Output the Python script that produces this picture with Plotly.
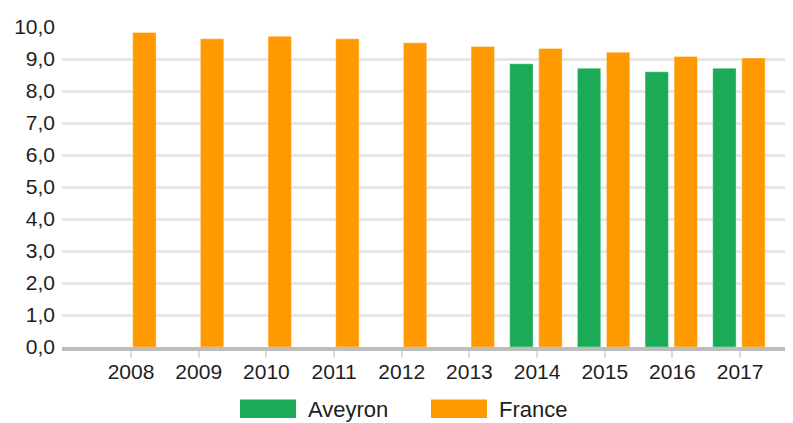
import plotly.graph_objects as go

years = ["2008", "2009", "2010", "2011", "2012", "2013", "2014", "2015", "2016", "2017"]
aveyron = [None, None, None, None, None, None, 8.85, 8.71, 8.60, 8.71]
france = [9.83, 9.63, 9.71, 9.63, 9.51, 9.39, 9.33, 9.21, 9.08, 9.03]
series_names = ["Aveyron", "France"]
colors = ["#1bab56", "#ff9900"]

# page has an 8px body margin: shift the figure so it lines up with the 793x423 window
OFF = 8
W, H = 793, 423 - OFF
ML, MR, MT, MB = 62 - OFF, 0, 27 - OFF, 76
FONT = "Liberation Sans, Arial, sans-serif"

fig = go.Figure()
fig.add_trace(go.Bar(x=years, y=aveyron, name=series_names[0], marker_color=colors[0],
                     marker_line=dict(width=1, color="rgba(255,255,255,0.35)"),
                     width=0.345, offset=-0.404, showlegend=False))
fig.add_trace(go.Bar(x=years, y=france, name=series_names[1], marker_color=colors[1],
                     marker_line=dict(width=1, color="rgba(255,255,255,0.35)"),
                     width=0.345, offset=0.025, showlegend=False))

pw = W - ML - MR
ph = H - MT - MB


def px2x(p):
    return (p - OFF - ML) / pw


def px2y(p):
    return (H - MB - (p - OFF)) / ph


# custom legend (wide swatches like the reference); pixel positions in window coords
legend_items = [(240, 296, 306), (431, 487, 497)]
for (x0, x1, tx), name, col in zip(legend_items, series_names, colors):
    fig.add_shape(type="rect", xref="paper", yref="paper",
                  x0=px2x(x0), x1=px2x(x1), y0=px2y(418), y1=px2y(399.5),
                  fillcolor=col, line_width=0)
    fig.add_annotation(xref="paper", yref="paper", x=px2x(tx), y=px2y(409),
                       text=name, showarrow=False, xanchor="left", yanchor="middle",
                       font=dict(size=22, color="#1e1e1e", family=FONT))

fig.update_layout(
    width=W, height=H,
    margin=dict(l=ML, r=MR, t=MT, b=MB, pad=0),
    paper_bgcolor="white", plot_bgcolor="white",
    barmode="overlay",
    separators=", ",
    font=dict(family=FONT, size=21, color="#1e1e1e"),
)
fig.update_xaxes(type="category", range=[-1.02, 9.90], showgrid=False,
                 showline=True, linecolor="#bdbdbd", linewidth=4,
                 ticks="outside", ticklen=7, tickwidth=2, tickcolor="#dddddd",
                 tickfont=dict(size=21, color="#1e1e1e"), ticklabelstandoff=-4)
fig.update_yaxes(range=[0, 10], dtick=1, tickformat=".1f", showgrid=True,
                 gridcolor="#e6e6e6", gridwidth=2.5, zeroline=False,
                 ticks="", tickfont=dict(size=21, color="#1e1e1e"), ticklabelstandoff=6)

fig.write_html("out.html")
